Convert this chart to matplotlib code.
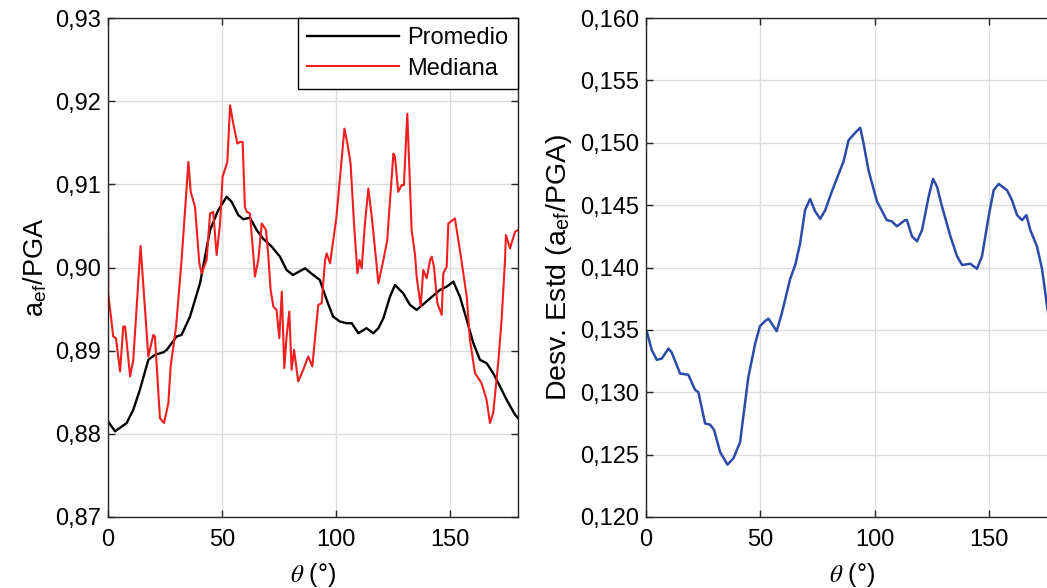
import matplotlib
matplotlib.use('Agg')
import matplotlib.pyplot as plt
from matplotlib.ticker import FuncFormatter, MultipleLocator
import numpy as np

# promedio de a_ef/PGA
theta_prom = [0, 3.1, 8.2, 11.1, 14, 17.7, 20.6, 24.3, 25.8, 30.1, 32.3, 36, 40.4,
              44.8, 48.4, 52.1, 54.3, 57.2, 59.4, 62.3, 65.3, 68, 71.9, 75.5, 78.4,
              81.2, 86.5, 90.1, 93, 96, 98.8, 101.8, 104.8, 107, 109.9, 113.5,
              116.5, 118.7, 120.9, 123.8, 126, 129.6, 132.6, 135.5, 140.6, 145.7,
              148.7, 151.6, 154.5, 157.5, 160.4, 163.3, 166.2, 169.1, 172.1, 175,
              178.7, 180]
prom = [0.8815, 0.8803, 0.8813, 0.8829, 0.8853, 0.8889, 0.8895, 0.8898, 0.8901,
        0.8917, 0.8919, 0.8941, 0.8981, 0.9045, 0.9069, 0.9085, 0.9079, 0.9063,
        0.9058, 0.9060, 0.9045, 0.9035, 0.9025, 0.9013, 0.8997, 0.8991, 0.8999,
        0.8991, 0.8985, 0.8961, 0.8941, 0.8935, 0.8933, 0.8933, 0.8921, 0.8927,
        0.8921, 0.8927, 0.8939, 0.8965, 0.8979, 0.8969, 0.8955, 0.8949, 0.8961,
        0.8973, 0.8977, 0.8983, 0.8965, 0.8937, 0.8909, 0.8889, 0.8885, 0.8873,
        0.8857, 0.8841, 0.8823, 0.8819]

# mediana de a_ef/PGA
theta_med = [0, 0.1, 2.3, 3.5, 5.3, 6.7, 7.5, 9.7, 11.1, 14.3, 17.7, 19.9, 20.6,
             22.8, 24.6, 26.5, 27.5, 29.9, 32.3, 35.3, 36.3, 38.2, 40.1, 41.1,
             43.3, 44.8, 46.2, 47.7, 49.2, 50.3, 52.4, 53.6, 55, 56.8, 57.9, 59.1,
             60.1, 60.9, 62.3, 64.1, 64.5, 66, 67.5, 69.4, 70.4, 71.4, 72.6, 74,
             75.2, 76.3, 77.4, 78.4, 79.6, 80.6, 81.7, 83.5, 85.7, 87.9, 89.7,
             92.3, 93.8, 95.3, 96, 97.5, 100.3, 103.8, 105.1, 106.5, 108, 109.2,
             109.5, 110.4, 111.4, 112.8, 114.3, 115.8, 118, 118.7, 120.9, 122.6,
             123.5, 125.3, 126, 127.4, 128.9, 129.9, 131.4, 133.3, 134.8, 135.5,
             137.3, 138.4, 139.9, 141.4, 142.1, 143.1, 144.6, 146.5, 147.2, 148.7,
             149.4, 152.3, 154.5, 157.5, 158.9, 161.1, 164, 166.2, 167.7, 169.1,
             171.3, 172.8, 174.3, 174.7, 176.5, 178.7, 180]
med = [0.9045, 0.8969, 0.8917, 0.8915, 0.8875, 0.8929, 0.8929, 0.8869, 0.8889,
       0.9026, 0.8893, 0.8919, 0.8917, 0.8819, 0.8813, 0.8837, 0.8881, 0.8929,
       0.9009, 0.9127, 0.9091, 0.9073, 0.9005, 0.8993, 0.9009, 0.9065, 0.9067,
       0.9015, 0.9053, 0.9109, 0.9127, 0.9195, 0.9173, 0.9149, 0.9151, 0.9151,
       0.9073, 0.9067, 0.9065, 0.9005, 0.8989, 0.9009, 0.9053, 0.9045, 0.9013,
       0.8973, 0.8953, 0.8949, 0.8915, 0.8971, 0.8879, 0.8917, 0.8947, 0.8877,
       0.8901, 0.8863, 0.8877, 0.8893, 0.8881, 0.8955, 0.8957, 0.9009, 0.9017,
       0.9005, 0.9061, 0.9167, 0.9149, 0.9125, 0.9053, 0.9005, 0.8993, 0.9009,
       0.8999, 0.9053, 0.9095, 0.9061, 0.9001, 0.8981, 0.9009, 0.9033, 0.9069,
       0.9137, 0.9133, 0.9091, 0.9099, 0.9099, 0.9185, 0.9045, 0.9015, 0.8989,
       0.8953, 0.8997, 0.8987, 0.9009, 0.9013, 0.9001, 0.8957, 0.8943, 0.8993,
       0.9001, 0.9053, 0.9059, 0.9021, 0.8965, 0.8913, 0.8873, 0.8861, 0.8841,
       0.8813, 0.8825, 0.8885, 0.8937, 0.9009, 0.9039, 0.9023, 0.9043, 0.9045]

# desviacion estandar de a_ef/PGA
theta_std = [0.3, 2.5, 4.7, 6.9, 9.8, 11.2, 14.9, 18.5, 21.4, 22.9, 25.8, 28, 29.7,
             32.4, 35.6, 38.2, 41.1, 44.7, 47.7, 49.8, 52, 53.5, 57.1, 59.3, 63,
             65.2, 67.3, 69.5, 71.7, 73.9, 76.1, 78.3, 81.2, 86.3, 88.5, 91.4,
             93.6, 95, 97.2, 100.9, 105.2, 107.4, 109.6, 113.2, 114, 116.2, 118.4,
             120.6, 123.5, 125.4, 127.1, 129.3, 133, 135.9, 138.1, 141.7, 144.6,
             146.8, 149.7, 151.9, 154.1, 157.7, 159.9, 162.1, 164.3, 166.2, 167.9,
             170.8, 173, 173.7, 175.2, 178, 180]
std = [0.1349, 0.1334, 0.1326, 0.1327, 0.1335, 0.1332, 0.1315, 0.1314, 0.1302,
       0.1300, 0.1275, 0.1274, 0.1270, 0.1252, 0.1242, 0.1247, 0.1260, 0.1312,
       0.1339, 0.1353, 0.1357, 0.1359, 0.1349, 0.1363, 0.1391, 0.1402, 0.1419,
       0.1446, 0.1455, 0.1445, 0.1439, 0.1446, 0.1461, 0.1485, 0.1502, 0.1508,
       0.1512, 0.1500, 0.1478, 0.1453, 0.1438, 0.1437, 0.1433, 0.1438, 0.1438,
       0.1425, 0.1421, 0.1430, 0.1457, 0.1471, 0.1465, 0.1449, 0.1425, 0.1409,
       0.1402, 0.1403, 0.1399, 0.1409, 0.1441, 0.1462, 0.1467, 0.1462, 0.1454,
       0.1442, 0.1438, 0.1442, 0.1430, 0.1417, 0.1399, 0.1390, 0.1369, 0.1340,
       0.1320]

plt.rcParams['font.family'] = ['Liberation Sans', 'DejaVu Sans']
plt.rcParams['mathtext.fontset'] = 'stix'
plt.rcParams['font.size'] = 17

fig = plt.figure(figsize=(10.47, 5.88), dpi=100)
ax1 = fig.add_axes([108 / 1047, 1 - 517 / 588, 410 / 1047, 499 / 588])
ax2 = fig.add_axes([646 / 1047, 1 - 517 / 588, 412 / 1047, 499 / 588])


def coma(dec):
    return FuncFormatter(lambda v, p: ('%.*f' % (dec, v)).replace('.', ','))


def estilo(ax):
    ax.set_xlim(0, 180)
    ax.xaxis.set_major_locator(MultipleLocator(50))
    ax.grid(True, color='#dcdcdc', linewidth=1)
    ax.set_axisbelow(True)
    ax.tick_params(direction='in', top=True, right=True, length=5, width=1,
                   color='#262626', labelsize=17)
    ax.tick_params(axis='x', pad=9)
    ax.tick_params(axis='y', pad=5)
    for s in ax.spines.values():
        s.set_color('#262626')
        s.set_linewidth(1)
    ax.set_xlabel(r'$\mathit{\theta}$ (°)', fontsize=18, labelpad=7)


ax1.plot(theta_prom, prom, color='black', lw=1.7, label='Promedio')
ax1.plot(theta_med, med, color='#f01e1e', lw=1.5, label='Mediana')
estilo(ax1)
ax1.set_ylim(0.87, 0.93)
ax1.yaxis.set_major_locator(MultipleLocator(0.01))
ax1.yaxis.set_major_formatter(coma(2))
ax1.set_ylabel(r'a$_\mathregular{ef}$/PGA', fontsize=19.5, labelpad=4)
leg = ax1.legend(loc='upper right', fancybox=False, framealpha=1, edgecolor='black',
                 borderaxespad=0, handlelength=3.9, handletextpad=0.35,
                 borderpad=0.4, labelspacing=0.35, fontsize=17)
leg.get_frame().set_linewidth(1)

ax2.plot(theta_std, std, color='#2c4ba8', lw=1.8)
estilo(ax2)
ax2.set_ylim(0.120, 0.160)
ax2.yaxis.set_major_locator(MultipleLocator(0.005))
ax2.yaxis.set_major_formatter(coma(3))
ax2.set_ylabel(r'Desv. Estd (a$_\mathregular{ef}$/PGA)', fontsize=20.5, labelpad=4)

fig.savefig('out.png', dpi=100)
